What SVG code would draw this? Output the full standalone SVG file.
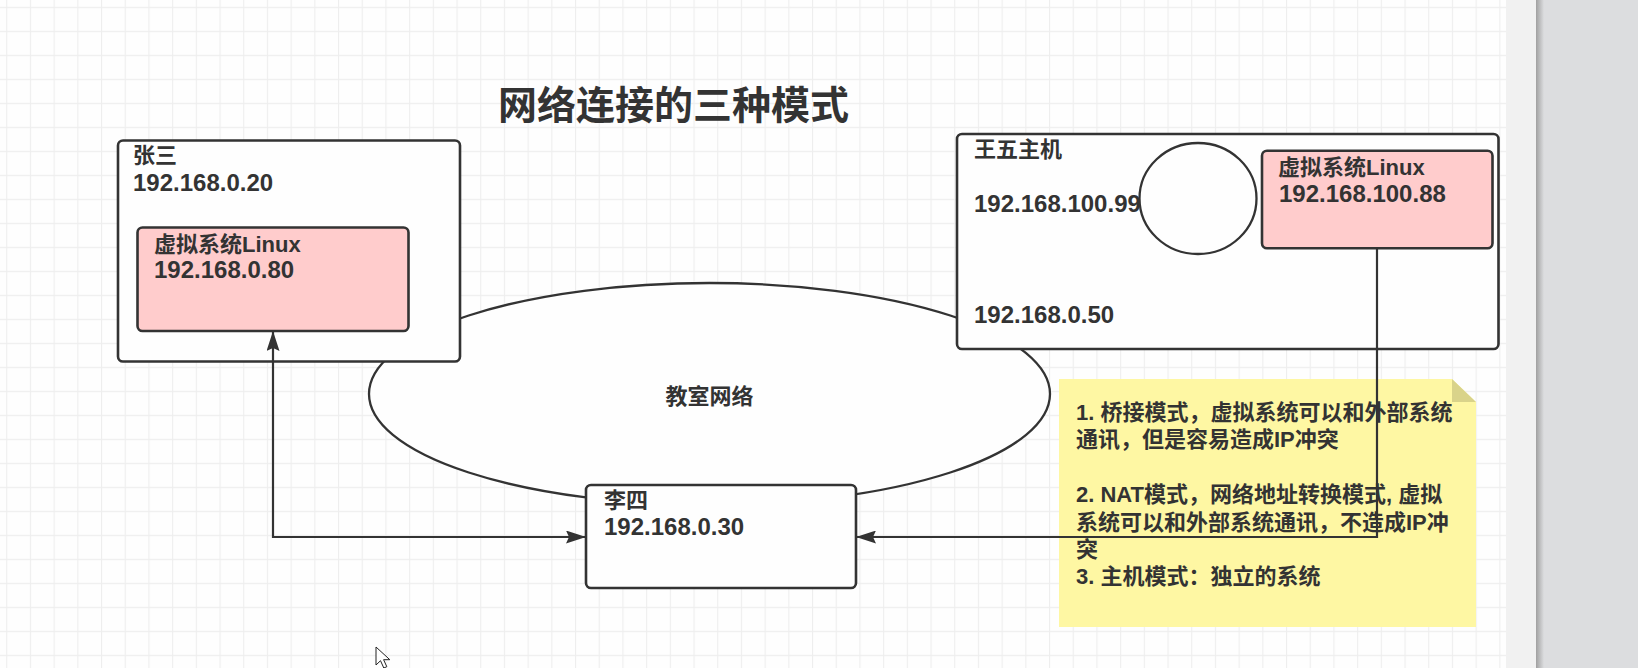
<svg xmlns="http://www.w3.org/2000/svg" width="1638" height="668" viewBox="0 0 1638 668">
<style>
.t{font-family:'Liberation Sans','Noto Sans CJK SC',sans-serif;font-weight:bold;fill:#333;}
.f22{font-size:22px;}
.f24{font-size:24px;}
.box{fill:#fefefe;stroke:#333;stroke-width:2.6;}
.pink{fill:#ffcccc;stroke:#333;stroke-width:2.6;}
.conn{fill:none;stroke:#333;stroke-width:2.2;}
</style>
<defs>
<pattern id="grid" patternUnits="userSpaceOnUse" x="6.2" y="6.8" width="23.7" height="24">
<path d="M0 0.5H23.7M0.5 0V24" stroke="#eeeeee" stroke-width="1.3" fill="none"/>
</pattern>
<linearGradient id="shadow" x1="0" y1="0" x2="1" y2="0">
<stop offset="0" stop-color="#a0a0a0"/>
<stop offset="1" stop-color="#dcdddf"/>
</linearGradient>
<marker id="arr" viewBox="0 0 20 13" refX="20" refY="6.5" markerWidth="20" markerHeight="13" markerUnits="userSpaceOnUse" orient="auto-start-reverse">
<path d="M0 0L20 6.5L0 13L3 6.5Z" fill="#333"/>
</marker>
</defs>

<g id="background">
<rect x="0" y="0" width="1506" height="668" fill="#fefefe"/>
<rect x="0" y="0" width="1506" height="668" fill="url(#grid)"/>
<rect x="1506" y="0" width="32" height="668" fill="#f1f1f1"/>
<rect x="1538" y="0" width="100" height="668" fill="#dcdddf"/>
<rect x="1536" y="0" width="8" height="668" fill="url(#shadow)"/>
</g>

<text id="title" class="t" x="673.5" y="119" font-size="39" text-anchor="middle">网络连接的三种模式</text>

<g id="net">
<ellipse cx="709.5" cy="394" rx="340.5" ry="111" fill="#fefefe" stroke="#333" stroke-width="2.3"/>
<text class="t f22" x="709.5" y="404" text-anchor="middle">教室网络</text>
</g>

<g id="zhangsan">
<rect class="box" x="118" y="140.5" width="342" height="221" rx="5"/>
<text class="t f22" x="133" y="163">张三</text>
<text class="t f24" x="133" y="190.5">192.168.0.20</text>
</g>

<g id="vm1">
<rect class="pink" x="137.5" y="227.5" width="271" height="103.5" rx="5"/>
<text class="t f22" x="154" y="252">虚拟系统Linux</text>
<text class="t f24" x="154" y="278">192.168.0.80</text>
</g>

<g id="wangwu">
<rect class="box" x="957" y="134" width="541.5" height="215" rx="5"/>
<text class="t f22" x="974" y="157">王五主机</text>
<text class="t f24" x="974" y="212">192.168.100.99</text>
<text class="t f24" x="974" y="323">192.168.0.50</text>
</g>

<g id="adapter">
<ellipse cx="1198" cy="198.5" rx="58.5" ry="55.5" fill="#fefefe" stroke="#333" stroke-width="2.3"/>
</g>

<g id="vm2">
<rect class="pink" x="1262" y="150.7" width="230.5" height="97.6" rx="5"/>
<text class="t f22" x="1278" y="175">虚拟系统Linux</text>
<text class="t f24" x="1279" y="201.5">192.168.100.88</text>
</g>

<g id="lisi">
<rect class="box" x="586" y="485" width="270" height="103" rx="5"/>
<text class="t f22" x="604" y="508">李四</text>
<text class="t f24" x="604" y="535">192.168.0.30</text>
</g>

<g id="note">
<path d="M1059 379H1452L1476 402V627H1059Z" fill="#fef7a3"/>
<path d="M1452 379V402H1476Z" fill="#d9d38a"/>
<text class="t f22" x="1076" y="420">1. 桥接模式，虚拟系统可以和外部系统</text>
<text class="t f22" x="1076" y="447">通讯，但是容易造成IP冲突</text>
<text class="t f22" x="1076" y="502">2. NAT模式，网络地址转换模式, 虚拟</text>
<text class="t f22" x="1076" y="530">系统可以和外部系统通讯，不造成IP冲</text>
<text class="t f22" x="1076" y="557">突</text>
<text class="t f22" x="1076" y="584">3. 主机模式：独立的系统</text>
</g>

<g id="connectors">
<path class="conn" d="M586 537H273V331" marker-start="url(#arr)" marker-end="url(#arr)"/>
<path class="conn" d="M1377 248.5V537H856" marker-end="url(#arr)"/>
</g>

<path id="cursor" d="M376 647v18l4.5-4.3l3.3 7.3l3-1.3l-3.2-7h6.2z" fill="#fff" stroke="#222" stroke-width="1"/>
</svg>
